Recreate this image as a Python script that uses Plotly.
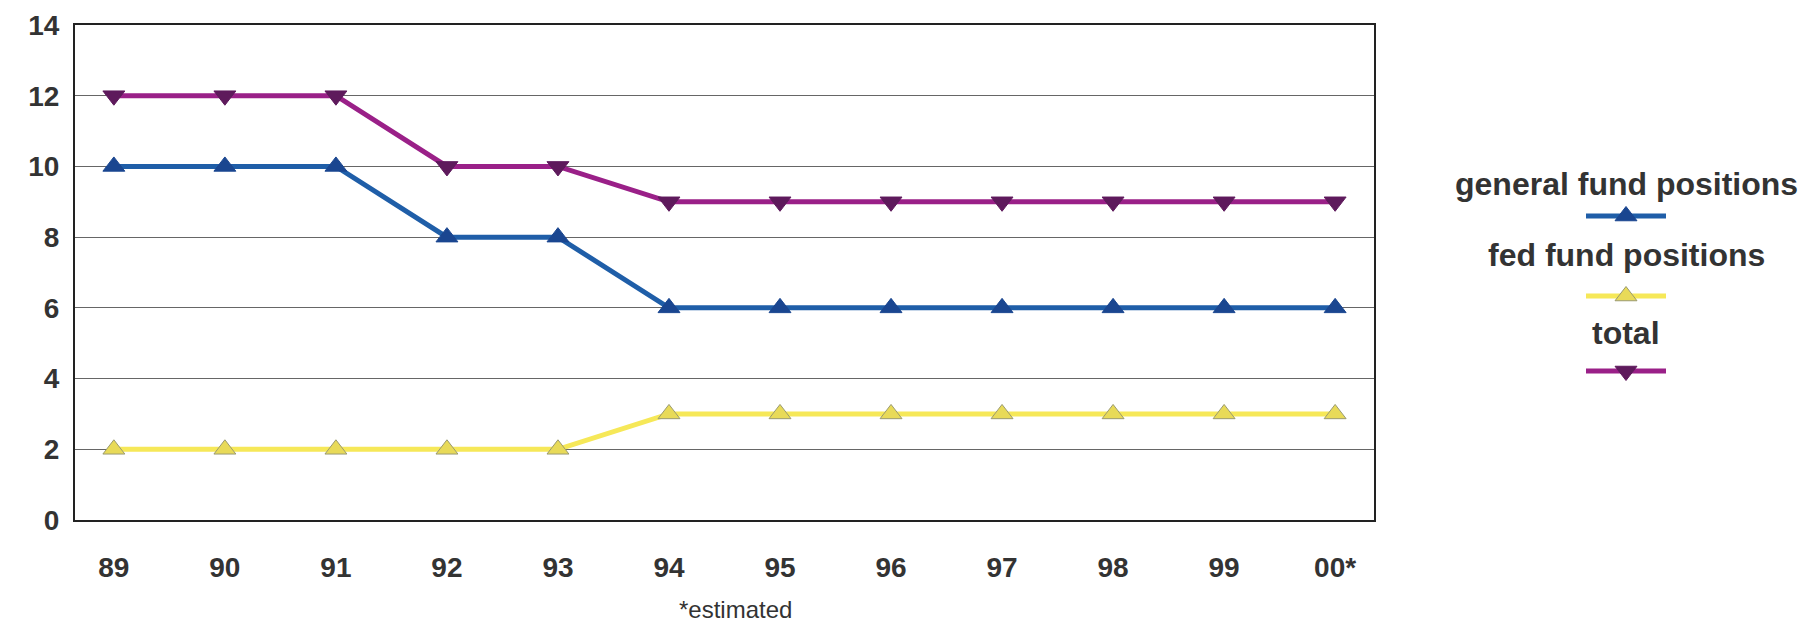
import plotly.graph_objects as go

years = ["89", "90", "91", "92", "93", "94", "95", "96", "97", "98", "99", "00*"]
general_fund = [10, 10, 10, 8, 8, 6, 6, 6, 6, 6, 6, 6]
fed_fund = [2, 2, 2, 2, 2, 3, 3, 3, 3, 3, 3, 3]
total = [12, 12, 12, 10, 10, 9, 9, 9, 9, 9, 9, 9]
y_ticks = [0, 2, 4, 6, 8, 10, 12, 14]

BLUE = "#1f5ea8"
BLUE_M = "#1a4690"
YEL = "#f6e858"
YEL_M = "#e8da58"
PUR = "#9a2088"
PUR_M = "#5e1a5c"
TXT = "#333333"
FONT = "Liberation Sans, Arial, sans-serif"

W, H = 1802, 623
ML, MR, MT, MB = 75, 0, 25, 103
plot_right = 1374
paper_w = W - ML - MR
x_dom_end = (plot_right - ML) / paper_w

fig = go.Figure()

series = [
    ("general fund positions", general_fund, BLUE, "triangle-up", BLUE_M, BLUE_M),
    ("fed fund positions", fed_fund, YEL, "triangle-up", YEL_M, "#9a9a70"),
    ("total", total, PUR, "triangle-down", PUR_M, PUR_M),
]

xs = list(range(len(years)))
for name, vals, col, sym, mcol, mline in series:
    fig.add_trace(go.Scatter(
        x=xs, y=vals, mode="lines+markers", name=name,
        line=dict(color=col, width=5),
        marker=dict(symbol=sym, size=19, color=mcol, line=dict(color=mline, width=1)),
        showlegend=False, xaxis="x", yaxis="y",
    ))

# custom legend (text above sample), in pixel-like coordinates on a helper axis
leg_cx = 1626
leg_text_y = [184, 255, 333]
leg_samp_y = [216, 296, 371]
for (name, vals, col, sym, mcol, mline), ty, sy in zip(series, leg_text_y, leg_samp_y):
    fig.add_trace(go.Scatter(
        x=[leg_cx - 40, leg_cx, leg_cx + 40], y=[sy, sy, sy], mode="lines",
        line=dict(color=col, width=5), showlegend=False, xaxis="x2", yaxis="y2",
        hoverinfo="skip",
    ))
    fig.add_trace(go.Scatter(
        x=[leg_cx], y=[sy], mode="markers",
        marker=dict(symbol=sym, size=19, color=mcol, line=dict(color=mline, width=1)),
        showlegend=False, xaxis="x2", yaxis="y2", hoverinfo="skip",
    ))
    fig.add_annotation(
        x=leg_cx, y=ty, xref="x2", yref="y2", text="<b>%s</b>" % name,
        showarrow=False, xanchor="center", yanchor="middle",
        font=dict(family=FONT, size=32, color=TXT),
    )

fig.add_annotation(
    x=(735 - ML) / paper_w, y=-(609 - (H - MB)) / (H - MT - MB), xref="paper", yref="paper",
    text="*estimated", showarrow=False, xanchor="center", yanchor="middle",
    font=dict(family=FONT, size=24, color=TXT),
)

fig.update_layout(
    width=W, height=H,
    margin=dict(l=ML, r=MR, t=MT, b=MB),
    paper_bgcolor="white", plot_bgcolor="white",
    xaxis=dict(
        domain=[0, x_dom_end], range=[-0.35, 11.35],
        tickmode="array", tickvals=xs, ticktext=["<b>%s</b>" % y for y in years],
        tickfont=dict(family=FONT, size=28, color=TXT),
        showgrid=False, zeroline=False,
        showline=True, linecolor="#222222", linewidth=2, mirror=True,
        ticks="", ticklabelstandoff=21,
    ),
    yaxis=dict(
        range=[0, 14], tickmode="array", tickvals=y_ticks,
        ticktext=["<b>%d</b>" % v for v in y_ticks],
        tickfont=dict(family=FONT, size=28, color=TXT),
        showgrid=True, gridcolor="#666666", gridwidth=1.3,
        zeroline=False, showline=True, linecolor="#222222", linewidth=2, mirror=True,
        ticks="", ticklabelstandoff=8,
    ),
    xaxis2=dict(domain=[x_dom_end, 1], range=[plot_right, W], visible=False, fixedrange=True),
    yaxis2=dict(domain=[0, 1], range=[H - MB, MT], visible=False, anchor="x2", fixedrange=True),
)

fig.write_html("out.html")
